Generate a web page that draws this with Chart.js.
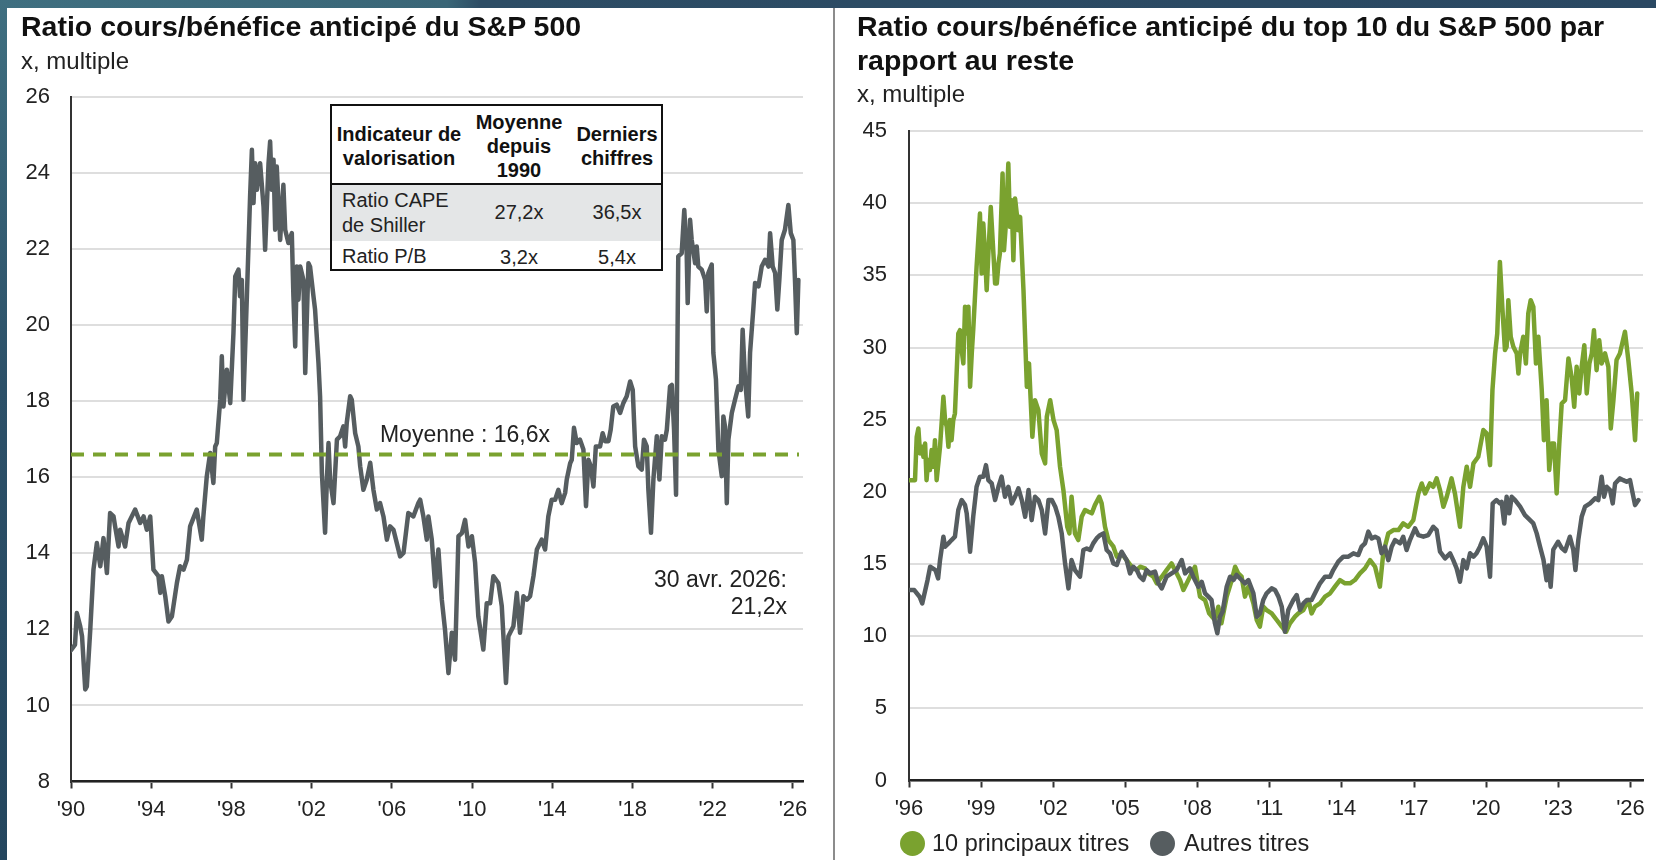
<!DOCTYPE html>
<html><head><meta charset="utf-8">
<script src="https://cdn.jsdelivr.net/npm/chart.js@4/dist/chart.umd.min.js"></script>
<style>
html,body{margin:0;padding:0;width:1656px;height:860px;overflow:hidden;background:#fff;font-family:"Liberation Sans",Arial,sans-serif;color:#1a1a1a}
#topband{position:absolute;left:0;top:0;width:1656px;height:8px;background:linear-gradient(90deg,#3f6f80 0%,#3a6677 27%,#2d4d65 29%,#2a4862 100%)}
#leftband{position:absolute;left:0;top:0;width:7px;height:860px;background:linear-gradient(180deg,#3f6f80 0%,#2c5068 45%,#24465e 100%)}
#sep{position:absolute;left:833px;top:8px;width:2px;height:852px;background:#8c8c8c}
.t{position:absolute;white-space:nowrap;line-height:1}
.title{font-weight:bold;font-size:28.5px;color:#111}
.sub{font-size:24px;color:#222}
.ann{font-size:23px;color:#222}
canvas{position:absolute;top:0}
#tbl{position:absolute;left:330px;top:104px;width:333px;height:167px;box-sizing:border-box;border:2.5px solid #111;background:#fff}
#tbl .row1{position:absolute;left:0;right:0;top:77px;height:56px;background:#e4e6e7;border-top:2px solid #111}
#tbl .h{font-weight:bold;font-size:20px;color:#111}
#tbl .b{font-size:20px;color:#222}
.dot{position:absolute;width:25px;height:25px;border-radius:50%}
</style></head>
<body>
<div id="topband"></div><div id="leftband"></div><div id="sep"></div>
<canvas id="c1" width="830" height="860" style="left:0"></canvas>
<canvas id="c2" width="823" height="860" style="left:833px"></canvas>

<div class="t title" style="left:21px;top:12px">Ratio cours/bénéfice anticipé du S&amp;P 500</div>
<div class="t sub" style="left:21px;top:49px">x, multiple</div>
<div class="t title" style="left:857px;top:12px">Ratio cours/bénéfice anticipé du top 10 du S&amp;P 500 par</div>
<div class="t title" style="left:857px;top:46px">rapport au reste</div>
<div class="t sub" style="left:857px;top:82px">x, multiple</div>

<div class="t ann" style="left:550px;top:434px;transform:translate(-100%,-50%)">Moyenne : 16,6x</div>
<div class="t ann" style="left:787px;top:579px;transform:translate(-100%,-50%)">30 avr. 2026:</div>
<div class="t ann" style="left:787px;top:606px;transform:translate(-100%,-50%)">21,2x</div>

<div id="tbl">
  <div class="row1"></div>
  <div class="t h" style="left:67px;top:28px;transform:translate(-50%,-50%)">Indicateur de</div>
  <div class="t h" style="left:67px;top:52px;transform:translate(-50%,-50%)">valorisation</div>
  <div class="t h" style="left:187px;top:16px;transform:translate(-50%,-50%)">Moyenne</div>
  <div class="t h" style="left:187px;top:40px;transform:translate(-50%,-50%)">depuis</div>
  <div class="t h" style="left:187px;top:64px;transform:translate(-50%,-50%)">1990</div>
  <div class="t h" style="left:285px;top:28px;transform:translate(-50%,-50%)">Derniers</div>
  <div class="t h" style="left:285px;top:52px;transform:translate(-50%,-50%)">chiffres</div>
  <div class="t b" style="left:10px;top:94px;transform:translateY(-50%)">Ratio CAPE</div>
  <div class="t b" style="left:10px;top:119px;transform:translateY(-50%)">de Shiller</div>
  <div class="t b" style="left:187px;top:106px;transform:translate(-50%,-50%)">27,2x</div>
  <div class="t b" style="left:285px;top:106px;transform:translate(-50%,-50%)">36,5x</div>
  <div class="t b" style="left:10px;top:150px;transform:translateY(-50%)">Ratio P/B</div>
  <div class="t b" style="left:187px;top:151px;transform:translate(-50%,-50%)">3,2x</div>
  <div class="t b" style="left:285px;top:151px;transform:translate(-50%,-50%)">5,4x</div>
</div>

<div class="dot" style="left:900px;top:831px;background:#7aa22f"></div>
<div class="t ann" style="left:932px;top:844px;transform:translateY(-50%);font-size:23.5px">10 principaux titres</div>
<div class="dot" style="left:1150px;top:831px;background:#565d60"></div>
<div class="t ann" style="left:1184px;top:844px;transform:translateY(-50%);font-size:23.5px">Autres titres</div>

<script>
// ---------- DATA ----------
const spYears = [1990.0,1990.2,1990.29,1990.46,1990.55,1990.71,1990.79,1990.96,1991.12,1991.29,1991.46,1991.62,1991.79,1991.95,1992.12,1992.2,1992.37,1992.45,1992.7,1992.87,1993.2,1993.45,1993.62,1993.78,1993.95,1994.11,1994.36,1994.45,1994.53,1994.7,1994.86,1995.03,1995.28,1995.44,1995.61,1995.78,1995.94,1996.27,1996.52,1996.6,1996.77,1996.94,1997.1,1997.19,1997.27,1997.44,1997.52,1997.6,1997.77,1997.94,1998.1,1998.19,1998.35,1998.43,1998.52,1998.6,1998.77,1998.93,1999.02,1999.1,1999.18,1999.27,1999.35,1999.43,1999.6,1999.68,1999.85,1999.93,2000.01,2000.1,2000.18,2000.26,2000.43,2000.59,2000.68,2000.84,2001.01,2001.09,2001.18,2001.26,2001.34,2001.43,2001.59,2001.68,2001.84,2001.92,2002.09,2002.17,2002.34,2002.42,2002.51,2002.67,2002.76,2002.84,2002.92,2003.09,2003.26,2003.42,2003.58,2003.67,2003.75,2003.92,2004.0,2004.17,2004.33,2004.42,2004.58,2004.75,2004.92,2005.08,2005.25,2005.41,2005.58,2005.75,2005.91,2006.08,2006.41,2006.58,2006.82,2007.07,2007.32,2007.41,2007.57,2007.74,2007.82,2007.99,2008.16,2008.32,2008.49,2008.65,2008.82,2008.99,2009.15,2009.32,2009.49,2009.65,2009.82,2009.99,2010.15,2010.31,2010.56,2010.73,2010.9,2011.06,2011.31,2011.48,2011.69,2011.81,2012.06,2012.23,2012.39,2012.56,2012.73,2012.89,2013.06,2013.23,2013.47,2013.64,2013.8,2013.97,2014.14,2014.3,2014.47,2014.64,2014.72,2014.89,2014.97,2015.08,2015.22,2015.38,2015.55,2015.68,2015.8,2015.92,2016.05,2016.17,2016.38,2016.51,2016.63,2016.8,2016.91,2017.04,2017.21,2017.38,2017.54,2017.71,2017.88,2018.01,2018.13,2018.29,2018.46,2018.57,2018.71,2018.79,2018.92,2019.04,2019.21,2019.34,2019.46,2019.62,2019.71,2019.87,2019.96,2020.07,2020.17,2020.28,2020.45,2020.58,2020.7,2020.75,2020.87,2020.95,2021.12,2021.2,2021.28,2021.45,2021.62,2021.7,2021.78,2021.95,2022.03,2022.16,2022.28,2022.45,2022.53,2022.61,2022.7,2022.78,2022.95,2023.11,2023.28,2023.4,2023.49,2023.61,2023.77,2023.86,2024.02,2024.11,2024.28,2024.44,2024.61,2024.78,2024.86,2024.99,2025.11,2025.22,2025.32,2025.44,2025.6,2025.77,2025.89,2026.02,2026.1,2026.19,2026.27];
const spPE = [11.45,11.6,12.43,12.08,11.82,10.42,10.5,11.99,13.57,14.27,13.66,14.4,13.48,15.06,14.97,14.71,14.18,14.62,14.18,14.8,15.15,14.8,14.97,14.62,14.97,13.57,13.4,12.96,13.4,12.87,12.21,12.34,13.22,13.66,13.57,13.83,14.71,15.15,14.36,14.97,16.02,16.64,15.85,16.81,16.9,18.04,19.18,17.86,18.83,17.95,19.79,21.28,21.46,20.76,21.19,18.04,20.76,23.38,24.61,23.21,24.26,23.56,24.0,24.26,23.12,21.98,24.26,24.83,23.56,24.35,22.51,24.17,22.24,23.69,22.51,22.16,22.42,20.76,19.44,21.54,20.67,21.54,21.19,18.74,21.63,21.54,20.76,20.41,19.0,18.13,16.11,14.54,15.94,16.9,15.94,15.32,16.99,17.08,17.34,16.81,17.43,18.13,18.04,17.16,16.81,16.29,15.67,15.94,16.38,15.67,15.15,15.32,14.97,14.36,14.71,14.62,13.92,14.01,15.06,14.97,15.32,15.41,14.97,14.36,14.97,14.36,13.13,14.1,12.78,11.99,10.85,11.91,11.2,14.45,14.53,14.88,14.18,14.45,13.75,12.34,11.47,12.69,12.69,13.4,13.22,12.61,10.59,11.82,12.08,12.96,11.91,12.87,12.78,12.87,13.4,14.1,14.36,14.1,14.97,15.41,15.41,15.67,15.32,15.59,15.94,16.37,16.46,17.3,16.9,16.99,16.73,15.24,16.46,16.29,15.76,16.81,16.81,17.16,16.95,16.95,17.25,17.86,17.91,17.69,17.95,18.13,18.52,18.3,16.81,16.29,16.2,16.99,16.81,15.67,14.54,15.94,17.08,15.94,17.08,16.99,17.25,18.39,18.43,17.25,15.54,21.81,21.89,23.03,21.89,20.58,22.77,22.24,21.63,22.07,21.54,21.46,21.19,20.36,21.37,21.59,19.27,18.57,16.73,16.03,17.6,17.34,15.32,16.99,17.69,18.04,18.39,18.3,19.88,18.57,17.6,19.27,20.41,21.11,21.02,21.54,21.72,21.54,22.42,21.54,21.37,20.41,21.19,22.24,22.51,23.16,22.42,22.24,21.19,19.79,21.19];
const avgPE = 16.6;

const top10Years = [1996.0,1996.25,1996.32,1996.39,1996.46,1996.53,1996.6,1996.67,1996.73,1996.8,1996.87,1996.94,1997.01,1997.08,1997.15,1997.29,1997.43,1997.5,1997.57,1997.64,1997.7,1997.77,1997.84,1997.91,1998.05,1998.12,1998.19,1998.26,1998.33,1998.4,1998.47,1998.54,1998.61,1998.67,1998.81,1998.95,1999.02,1999.09,1999.16,1999.23,1999.3,1999.4,1999.51,1999.58,1999.65,1999.72,1999.78,1999.89,1999.95,2000.03,2000.13,2000.2,2000.27,2000.34,2000.41,2000.48,2000.55,2000.62,2000.76,2000.9,2000.99,2001.06,2001.13,2001.24,2001.38,2001.52,2001.66,2001.73,2001.87,2002.01,2002.14,2002.28,2002.42,2002.58,2002.67,2002.76,2002.9,2003.04,2003.18,2003.32,2003.46,2003.6,2003.73,2003.91,2004.01,2004.15,2004.29,2004.5,2004.64,2004.84,2005.05,2005.26,2005.47,2005.61,2005.81,2005.95,2006.16,2006.3,2006.51,2006.71,2006.92,2007.06,2007.27,2007.41,2007.55,2007.75,2007.89,2008.1,2008.31,2008.48,2008.72,2008.86,2008.99,2009.21,2009.42,2009.56,2009.69,2009.83,2009.97,2010.11,2010.32,2010.46,2010.59,2010.73,2010.87,2011.08,2011.29,2011.5,2011.68,2011.84,2012.05,2012.19,2012.4,2012.61,2012.74,2012.88,2013.09,2013.3,2013.51,2013.71,2013.92,2014.13,2014.34,2014.54,2014.75,2014.96,2015.17,2015.38,2015.58,2015.72,2015.93,2016.14,2016.35,2016.55,2016.76,2016.97,2017.18,2017.32,2017.46,2017.66,2017.8,2017.94,2018.08,2018.22,2018.36,2018.56,2018.7,2018.91,2019.05,2019.19,2019.33,2019.47,2019.67,2019.88,2020.02,2020.16,2020.26,2020.37,2020.46,2020.57,2020.67,2020.78,2020.85,2020.92,2021.02,2021.13,2021.27,2021.34,2021.41,2021.54,2021.65,2021.75,2021.85,2021.96,2022.07,2022.17,2022.31,2022.4,2022.51,2022.62,2022.72,2022.82,2022.93,2023.04,2023.14,2023.28,2023.42,2023.55,2023.66,2023.76,2023.87,2023.97,2024.08,2024.18,2024.29,2024.39,2024.48,2024.59,2024.7,2024.8,2024.94,2025.08,2025.18,2025.29,2025.42,2025.56,2025.77,2025.91,2026.05,2026.19,2026.28];
const top10PE = [20.81,20.81,23.81,24.39,22.66,23.12,22.43,23.35,20.81,22.2,21.51,22.89,21.74,23.58,20.81,23.12,26.58,24.97,24.51,23.12,24.97,23.58,24.97,25.43,30.97,31.2,29.82,28.9,32.82,30.97,32.82,27.28,29.59,31.2,35.59,39.28,35.13,38.59,36.51,33.97,36.51,39.74,36.51,34.43,34.43,35.82,36.51,42.05,36.74,38.59,42.74,38.36,40.2,36.05,40.32,39.28,38.13,39.05,33.97,27.28,28.9,26.35,23.81,26.35,25.66,22.66,21.97,25.2,26.35,24.97,24.28,21.74,20.12,17.58,17.12,19.66,17.12,16.66,18.27,18.74,18.62,18.51,19.08,19.66,19.2,17.58,16.66,16.2,15.51,15.74,15.27,14.81,14.58,14.81,14.7,14.35,14.12,13.66,14.12,14.58,15.04,14.58,13.89,13.2,13.66,14.35,14.81,12.74,12.5,11.58,11.12,12.04,10.89,12.74,13.89,14.81,14.35,14.12,12.74,13.43,12.27,11.12,10.66,12.04,11.81,11.58,11.12,10.66,10.31,10.89,11.35,11.58,11.81,12.5,11.58,12.04,12.27,12.74,12.97,13.43,13.89,13.66,13.66,13.89,14.35,14.7,15.27,14.81,13.43,15.74,17.12,17.35,17.35,17.81,17.58,18.04,19.89,20.58,19.89,20.58,20.35,20.93,20.12,18.97,19.66,20.93,19.89,17.58,20.35,21.74,20.35,21.97,22.43,24.28,24.05,21.85,27.05,29.59,30.97,35.93,32.82,29.82,30.05,33.28,30.74,30.05,29.59,28.2,29.59,30.74,28.89,32.36,33.28,32.82,28.89,30.74,27.05,23.58,26.35,21.51,23.35,23.35,19.89,23.35,26.12,26.35,29.24,27.97,25.89,28.66,26.82,28.66,30.16,26.82,28.89,29.59,31.2,28.43,30.51,28.89,29.59,28.66,24.39,26.35,29.13,29.59,31.09,29.13,26.82,23.58,26.82];

const restYears = [1996.0,1996.22,1996.44,1996.55,1996.77,1996.88,1997.1,1997.21,1997.29,1997.43,1997.5,1997.64,1997.77,1997.91,1998.05,1998.19,1998.33,1998.4,1998.54,1998.67,1998.81,1998.95,1999.09,1999.2,1999.3,1999.44,1999.58,1999.72,1999.85,1999.99,2000.13,2000.27,2000.41,2000.55,2000.69,2000.83,2000.97,2001.1,2001.24,2001.38,2001.52,2001.66,2001.8,2001.94,2002.08,2002.21,2002.35,2002.49,2002.63,2002.76,2002.9,2003.11,2003.25,2003.39,2003.53,2003.66,2003.8,2003.94,2004.08,2004.22,2004.36,2004.5,2004.64,2004.84,2005.05,2005.19,2005.33,2005.47,2005.6,2005.74,2005.88,2006.02,2006.23,2006.37,2006.51,2006.71,2006.92,2007.13,2007.34,2007.48,2007.68,2007.82,2008.03,2008.17,2008.31,2008.45,2008.58,2008.72,2008.82,2008.93,2009.04,2009.21,2009.35,2009.49,2009.62,2009.83,2009.97,2010.11,2010.32,2010.46,2010.59,2010.73,2010.87,2011.08,2011.22,2011.36,2011.5,2011.63,2011.77,2011.98,2012.12,2012.26,2012.4,2012.54,2012.74,2012.88,2013.09,2013.3,2013.51,2013.64,2013.85,2014.06,2014.27,2014.48,2014.68,2014.82,2014.96,2015.1,2015.24,2015.38,2015.52,2015.65,2015.79,2015.93,2016.07,2016.21,2016.42,2016.55,2016.69,2016.83,2017.04,2017.18,2017.39,2017.59,2017.8,2017.94,2018.08,2018.29,2018.5,2018.63,2018.77,2018.91,2019.05,2019.19,2019.33,2019.47,2019.6,2019.74,2019.88,2020.02,2020.16,2020.27,2020.43,2020.57,2020.64,2020.75,2020.85,2020.96,2021.06,2021.2,2021.41,2021.61,2021.75,2021.96,2022.1,2022.24,2022.38,2022.51,2022.6,2022.68,2022.79,2022.99,2023.14,2023.28,2023.48,2023.62,2023.71,2023.83,2023.97,2024.11,2024.32,2024.53,2024.66,2024.8,2024.9,2025.01,2025.15,2025.26,2025.36,2025.56,2025.7,2025.84,2025.98,2026.09,2026.19,2026.33];
const restPE = [13.19,13.19,12.73,12.27,13.88,14.81,14.58,14.0,15.27,16.89,16.2,16.43,16.66,16.89,18.74,19.43,19.08,18.51,15.85,18.27,20.35,21.05,21.05,21.85,20.81,20.58,19.43,20.35,21.05,19.66,20.35,19.2,19.66,20.24,19.43,18.27,20.12,18.04,19.66,19.43,18.74,17.12,19.43,19.43,18.97,18.27,17.12,15.04,13.31,15.27,14.58,14.12,15.97,16.08,15.97,16.43,16.77,17.0,17.12,15.97,15.74,15.04,14.93,15.85,15.27,14.35,14.81,14.58,14.12,13.89,14.58,14.35,14.47,13.66,13.31,14.12,14.35,14.58,15.27,14.35,14.7,14.12,13.43,13.77,12.97,12.74,12.5,10.89,10.2,11.35,11.7,13.43,14.12,13.89,14.24,13.89,13.66,13.89,12.97,11.35,11.58,12.5,12.97,13.31,13.2,12.74,12.04,10.31,11.81,12.5,12.85,11.81,12.27,12.5,12.5,12.97,13.66,14.12,14.12,14.58,15.16,15.51,15.51,15.74,15.62,16.2,16.43,17.24,16.77,16.89,16.77,15.74,16.2,15.27,16.2,16.66,16.43,16.89,15.97,16.66,17.47,17.0,16.89,17.0,17.58,17.35,15.85,15.39,15.74,15.27,14.7,13.77,15.27,14.7,15.74,15.51,15.74,16.2,16.77,16.2,14.12,19.2,19.43,19.2,19.31,17.81,19.66,18.51,19.66,19.43,18.97,18.39,18.16,17.81,17.12,16.2,15.3,13.88,14.9,13.42,16.0,16.54,16.1,15.9,16.89,16.0,14.58,16.66,18.27,18.97,19.2,19.55,19.43,21.05,19.66,20.35,20.12,19.2,20.58,20.93,20.81,20.7,20.81,19.89,19.08,19.43];

const leftXTicks = [1990,1994,1998,2002,2006,2010,2014,2018,2022,2026];
const rightXTicks = [1996,1999,2002,2005,2008,2011,2014,2017,2020,2023,2026];

// ---------- STYLE ----------
const GREEN = '#7aa22f', GRAY = '#565d60', FONT = '"Liberation Sans", Arial, sans-serif';
const toXY = (xs, ys) => xs.map((x, i) => ({x, y: ys[i]}));
const yrLabel = v => "'" + String(Math.round(v)).slice(2);

function xScale(min, max, ticks, h) {
  return {
    type: 'linear', min, max,
    afterBuildTicks: s => { s.ticks = ticks.map(v => ({value: v})); },
    afterFit: s => { s.height = h; },
    grid: {drawOnChartArea: false, drawTicks: true, tickLength: 7, tickWidth: 2, tickColor: '#333'},
    border: {display: true, color: '#222', width: 2.5},
    ticks: {padding: 8, color: '#222', font: {family: FONT, size: 22}, maxRotation: 0, autoSkip: false, callback: yrLabel}
  };
}
function yScale(min, max, step, w, pad) {
  return {
    min, max,
    afterFit: s => { s.width = w; },
    grid: {color: '#dedede', lineWidth: 2, drawTicks: false},
    border: {display: true, color: '#333', width: 2},
    ticks: {stepSize: step, padding: pad, color: '#222', font: {family: FONT, size: 22}}
  };
}
const common = {responsive: false, animation: false, devicePixelRatio: 1,
  plugins: {legend: {display: false}, tooltip: {enabled: false}},
  elements: {point: {radius: 0}, line: {tension: 0, borderJoinStyle: 'round', borderCapStyle: 'round'}}};

new Chart(document.getElementById('c1'), {
  type: 'line',
  data: {datasets: [
    {label: 'Moyenne : 16,6x', data: [{x: 1990, y: avgPE}, {x: 2026.3, y: avgPE}], borderColor: GREEN, borderWidth: 4, borderDash: [13, 9], borderCapStyle: 'butt', order: 0},
    {label: 'S&P 500', data: toXY(spYears, spPE), borderColor: GRAY, borderWidth: 4.5, order: 1}
  ]},
  options: Object.assign({}, common, {
    layout: {padding: {left: 0, right: 27, top: 97, bottom: 0}},
    scales: {x: xScale(1990, 2026.5, leftXTicks, 78.5), y: yScale(8, 26, 2, 71, 21)}
  })
});

new Chart(document.getElementById('c2'), {
  type: 'line',
  data: {datasets: [
    {label: 'Autres titres', data: toXY(restYears, restPE), borderColor: GRAY, borderWidth: 4.5, order: 0},
    {label: '10 principaux titres', data: toXY(top10Years, top10PE), borderColor: GREEN, borderWidth: 4.5, order: 1}
  ]},
  options: Object.assign({}, common, {
    layout: {padding: {left: 0, right: 13, top: 131, bottom: 0}},
    scales: {x: xScale(1996, 2026.52, rightXTicks, 79.5), y: yScale(0, 45, 5, 76, 22)}
  })
});
</script>
</body></html>
